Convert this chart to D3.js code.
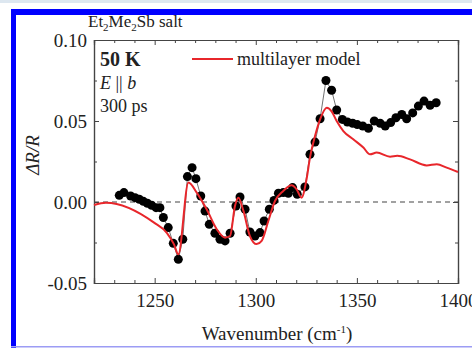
<!DOCTYPE html>
<html>
<head>
<meta charset="utf-8">
<script src="https://cdn.jsdelivr.net/npm/d3@7"></script>
<style>
  html, body { margin: 0; padding: 0; background: #fff; }
  svg { display: block; }
  text { font-family: "Liberation Serif", "Times New Roman", serif; fill: #222; }
</style>
</head>
<body>
<div id="chart"></div>
<script>
// measured points (black dots)
const waveNumbers = [1232.5, 1234.8, 1238.1, 1240.3, 1242.4, 1244.4, 1246.4, 1248.5, 1250.7, 1252.6,
    1254.3, 1256.7, 1259.2, 1261.7, 1263.9, 1266.2, 1268.5, 1270.4, 1272.8, 1274.9,
    1277.0, 1279.8, 1282.3, 1284.8, 1287.3, 1290.2, 1292.2, 1294.7, 1297.1, 1299.6,
    1302.1, 1304.1, 1306.7, 1309.0, 1311.2, 1313.6, 1316.1, 1318.2, 1320.5, 1324.3,
    1326.8, 1329.3, 1331.8, 1334.7, 1337.5, 1340.0, 1342.8, 1345.3, 1347.9, 1350.2,
    1352.9, 1355.7, 1358.6, 1361.5, 1364.0, 1366.7, 1369.3, 1372.2, 1374.6, 1377.6,
    1380.4, 1383.2, 1386.2, 1389.2];
const deltaR = [0.0041, 0.0058, 0.0037, 0.0027, 0.0017, 0.0004, -0.0008, -0.0020, -0.0035, -0.0035,
    -0.0096, -0.0158, -0.0255, -0.0354, -0.0230, 0.0157, 0.0212, 0.0144, 0.0037, -0.0056,
    -0.0138, -0.0193, -0.0230, -0.0240, -0.0193, -0.0025, 0.0031, -0.0045, -0.0185, -0.0210,
    -0.0189, -0.0117, -0.0045, 0.0010, 0.0054, 0.0058, 0.0054, 0.0089, 0.0048, 0.0093,
    0.0294, 0.0370, 0.0514, 0.0750, 0.0690, 0.0568, 0.0510, 0.0494, 0.0486, 0.0478,
    0.0469, 0.0455, 0.0500, 0.0486, 0.0469, 0.0490, 0.0520, 0.0540, 0.0514, 0.0550,
    0.0592, 0.0623, 0.0597, 0.0613];

// multilayer model (red line)
const modelX = [1220, 1225.9, 1249.7, 1256.0, 1259.5, 1261.7, 1266.7, 1270.8, 1275.7, 1280.7,
    1284.8, 1287.3, 1289.7, 1291.4, 1293.9, 1297.1, 1300.4, 1302.9, 1306.2, 1309.5,
    1313.6, 1317.7, 1320.2, 1322.6, 1325.1, 1326.8, 1329.3, 1331.8, 1335.1, 1337.5,
    1340.0, 1343.3, 1348.2, 1353.2, 1356.5, 1359.8, 1366.4, 1370.0, 1376.3, 1384.5,
    1389.5, 1394.4, 1400];
const modelY = [-0.0018, -0.0004, -0.0127, -0.0190, -0.0260, -0.0323, 0.0120, 0.0058, -0.0045, -0.0168,
    -0.0220, -0.0210, -0.0025, 0.0027, -0.0055, -0.0210, -0.0260, -0.0240, -0.0117, 0.0006,
    0.0068, 0.0103, 0.0078, 0.0027, 0.0140, 0.0274, 0.0407, 0.0510, 0.0582, 0.0560,
    0.0500, 0.0438, 0.0387, 0.0336, 0.0294, 0.0305, 0.0280, 0.0285, 0.0263, 0.0226,
    0.0233, 0.0212, 0.0185];

const xMajor = [1250, 1300, 1350, 1400];
const xMinor = [1230, 1240, 1260, 1270, 1280, 1290, 1310, 1320, 1330, 1340, 1360, 1370, 1380, 1390];
const yMajor = [-0.05, 0.00, 0.05, 0.10];
const yMinor = [-0.025, 0.025, 0.075];

const W = 472, H = 348;
const margin = { top: 40, right: 14, bottom: 65, left: 94 },
    width = W - margin.left - margin.right,
    height = H - margin.top - margin.bottom;

const svg = d3.select("#chart")
    .append("svg")
    .attr("width", W)
    .attr("height", H);

// page frame
svg.append("rect").attr("x", 0).attr("y", 0).attr("width", W).attr("height", 3).attr("fill", "#dde7f0");
svg.append("rect").attr("x", 11).attr("y", 9).attr("width", W - 11).attr("height", 6).attr("fill", "#0000ff");
svg.append("rect").attr("x", 11).attr("y", 9).attr("width", 5).attr("height", H - 9).attr("fill", "#0000ff");
svg.append("rect").attr("x", 11).attr("y", 346).attr("width", W - 11).attr("height", 1.5).attr("fill", "#9c9cf4");

const g = svg.append("g")
    .attr("transform", `translate(${margin.left}, ${margin.top})`);

const xScale = d3.scaleLinear()
    .domain([1220, 1400])
    .range([0, width]);

const yScale = d3.scaleLinear()
    .domain([-0.05, 0.10])
    .range([height, 0]);

// zero line
g.append("line")
    .attr("x1", 0)
    .attr("x2", width)
    .attr("y1", yScale(0))
    .attr("y2", yScale(0))
    .attr("stroke", "#444")
    .attr("stroke-width", 1.2)
    .attr("stroke-dasharray", "5,4");

// axes, ticks pointing inward
function styleAxis(sel) {
    sel.select(".domain").attr("stroke", "#444").attr("stroke-width", 1.2);
    sel.selectAll(".tick line").attr("stroke", "#444").attr("stroke-width", 1);
    sel.selectAll(".tick text")
        .style("font-family", "'Liberation Serif', serif")
        .style("font-size", "19px")
        .attr("fill", "#222");
}

const yFormat = d => d3.format(".2f")(d).replace("\u2212", "-");

g.append("g")
    .attr("transform", `translate(0, ${height})`)
    .call(d3.axisBottom(xScale).tickValues(xMinor).tickSize(-3).tickFormat(""))
    .call(styleAxis);
g.append("g")
    .attr("transform", `translate(0, ${height})`)
    .call(d3.axisBottom(xScale).tickValues(xMajor).tickSize(-5).tickPadding(11).tickFormat(d3.format("d")))
    .call(styleAxis);
g.append("g")
    .call(d3.axisTop(xScale).tickValues(xMinor).tickSize(-3).tickFormat(""))
    .call(styleAxis);
g.append("g")
    .call(d3.axisTop(xScale).tickValues(xMajor).tickSize(-5).tickFormat(""))
    .call(styleAxis);

g.append("g")
    .call(d3.axisLeft(yScale).tickValues(yMinor).tickSize(-3).tickFormat(""))
    .call(styleAxis);
g.append("g")
    .call(d3.axisLeft(yScale).tickValues(yMajor).tickSize(-5).tickPadding(7).tickFormat(yFormat))
    .call(styleAxis);
g.append("g")
    .attr("transform", `translate(${width}, 0)`)
    .call(d3.axisRight(yScale).tickValues(yMinor).tickSize(-3).tickFormat(""))
    .call(styleAxis);
g.append("g")
    .attr("transform", `translate(${width}, 0)`)
    .call(d3.axisRight(yScale).tickValues(yMajor).tickSize(-5).tickFormat(""))
    .call(styleAxis);

// measured data
const points = waveNumbers.map((x, i) => ({ x: x, y: deltaR[i] }));
const model = modelX.map((x, i) => ({ x: x, y: modelY[i] }));

const line = d3.line()
    .x(d => xScale(d.x))
    .y(d => yScale(d.y));

g.append("path")
    .datum(points)
    .attr("d", line)
    .attr("fill", "none")
    .attr("stroke", "#333")
    .attr("stroke-width", 0.7);

g.selectAll(".dot")
    .data(points)
    .enter()
    .append("circle")
    .attr("class", "dot")
    .attr("cx", d => xScale(d.x))
    .attr("cy", d => yScale(d.y))
    .attr("r", 4.5)
    .attr("fill", "#000");

g.append("path")
    .datum(model)
    .attr("d", line.curve(d3.curveMonotoneX))
    .attr("fill", "none")
    .attr("stroke", "#e8262b")
    .attr("stroke-width", 2);

// legend
g.append("line")
    .attr("x1", 98).attr("x2", 139)
    .attr("y1", 19).attr("y2", 19)
    .attr("stroke", "#e8262b")
    .attr("stroke-width", 2);
g.append("text")
    .attr("x", 143).attr("y", 25)
    .style("font-size", "18px")
    .text("multilayer model");

// annotations
g.append("text")
    .attr("x", 6).attr("y", 26)
    .style("font-size", "20px")
    .style("font-weight", "bold")
    .text("50 K");

const eb = g.append("text")
    .attr("x", 6).attr("y", 49)
    .style("font-size", "18px");
eb.append("tspan").style("font-style", "italic").text("E");
eb.append("tspan").text(" || ");
eb.append("tspan").style("font-style", "italic").text("b");

g.append("text")
    .attr("x", 6).attr("y", 72)
    .style("font-size", "18px")
    .text("300 ps");

const salt = svg.append("text")
    .attr("x", 88).attr("y", 27)
    .style("font-size", "17px");
salt.append("tspan").text("Et");
salt.append("tspan").attr("dy", 4).style("font-size", "11px").text("2");
salt.append("tspan").attr("dy", -4).text("Me");
salt.append("tspan").attr("dy", 4).style("font-size", "11px").text("2");
salt.append("tspan").attr("dy", -4).text("Sb salt");

// axis titles
const xt = svg.append("text")
    .attr("x", 277).attr("y", 340)
    .attr("text-anchor", "middle")
    .style("font-size", "19px");
xt.append("tspan").text("Wavenumber (cm");
xt.append("tspan").attr("dy", -7).style("font-size", "11px").text("-1");
xt.append("tspan").attr("dy", 7).text(")");

const yt = svg.append("text")
    .attr("transform", "rotate(-90)")
    .attr("x", -155).attr("y", 39)
    .attr("text-anchor", "middle")
    .style("font-size", "19px")
    .style("font-style", "italic");
yt.append("tspan").text("\u0394R/R");
</script>
</body>
</html>
